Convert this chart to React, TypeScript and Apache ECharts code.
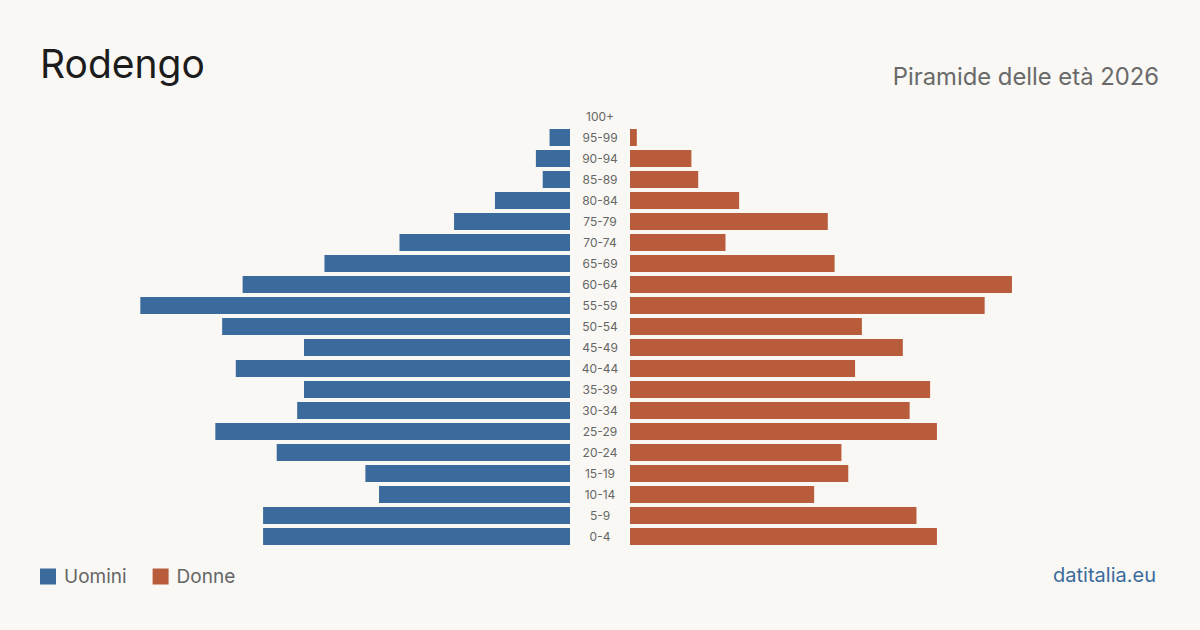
import React, { useEffect, useRef } from "react";
import * as echarts from "echarts";

const ageGroups = ["0-4","5-9","10-14","15-19","20-24","25-29","30-34","35-39","40-44","45-49","50-54","55-59","60-64","65-69","70-74","75-79","80-84","85-89","90-94","95-99","100+"];
const men = [45,45,28,30,43,52,40,39,49,39,51,63,48,36,25,17,11,4,5,3,0];
const women = [45,42,27,32,31,45,41,44,33,40,34,52,56,30,14,29,16,10,9,1,0];

const FONT = "Inter, 'Noto Sans', sans-serif";
const BLUE = "#3b6b9c";
const ORANGE = "#b95c3c";

export default function App() {
  const ref = useRef<HTMLDivElement>(null);
  useEffect(() => {
    const chart = echarts.init(ref.current!, null, { renderer: "svg" });
    const axisMax = 78;
    chart.setOption({
      animation: false,
      backgroundColor: "#f9f8f4",
      textStyle: { fontFamily: FONT },
      title: [
        { text: "Rodengo", left: 35, top: 39, textStyle: { fontSize: 39, fontWeight: "normal", color: "#1c1c1c", fontFamily: FONT } },
        { text: "Piramide delle età 2026", right: 36, top: 59, textStyle: { fontSize: 23.8, fontWeight: "normal", color: "#6a6a6a", fontFamily: FONT } },
        { text: "datitalia.eu", right: 39, top: 560, textStyle: { fontSize: 20, fontWeight: "normal", color: "#3b6b9c", fontFamily: FONT } },
      ],
      legend: {
        left: 35, top: 562, itemWidth: 16, itemHeight: 16, icon: "rect", itemGap: 26,
        textStyle: { fontSize: 19, color: "#666", fontFamily: FONT, padding: [0, 0, 0, 3] },
        data: ["Uomini", "Donne"],
      },
      grid: [
        { left: 38, width: 532, top: 106, height: 441 },
        { left: 630, width: 532, top: 106, height: 441 },
      ],
      xAxis: [
        { gridIndex: 0, type: "value", min: 0, max: axisMax, inverse: true, show: false },
        { gridIndex: 1, type: "value", min: 0, max: axisMax, show: false },
      ],
      yAxis: [
        { gridIndex: 0, type: "category", data: ageGroups, show: false },
        {
          gridIndex: 1, type: "category", data: ageGroups, position: "left",
          axisLine: { show: false }, axisTick: { show: false }, splitLine: { show: false },
          axisLabel: { align: "center", margin: 30, fontSize: 12, color: "#666", fontFamily: FONT },
        },
      ],
      series: [
        { name: "Uomini", type: "bar", xAxisIndex: 0, yAxisIndex: 0, data: men, barWidth: 17, itemStyle: { color: BLUE } },
        { name: "Donne", type: "bar", xAxisIndex: 1, yAxisIndex: 1, data: women, barWidth: 17, itemStyle: { color: ORANGE } },
      ],
    });
    return () => chart.dispose();
  }, []);
  return <div ref={ref} style={{ width: 1200, height: 630, position: "absolute", left: 0, top: 0 }} />;
}
